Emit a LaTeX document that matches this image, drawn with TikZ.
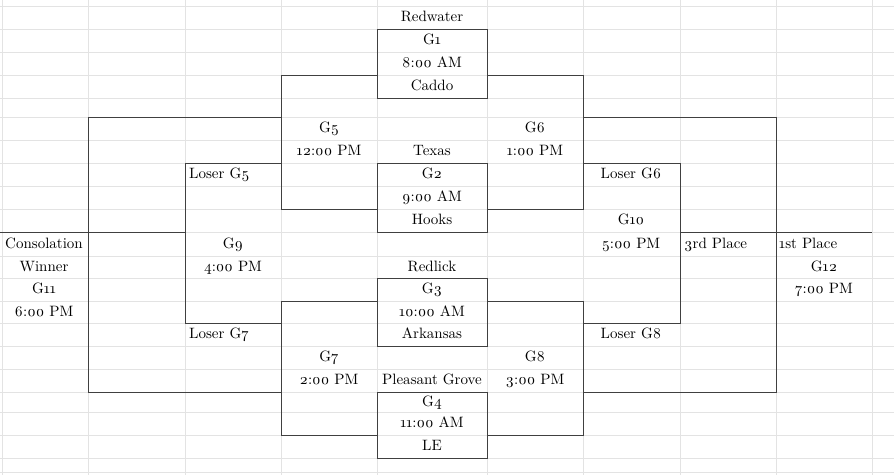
\documentclass[tikz,border=0pt]{standalone}
\usepackage{fontspec}
\setmainfont{lmroman10-regular.otf}[BoldFont=lmroman10-bold.otf, Numbers=OldStyle]
\begin{document}
\begin{tikzpicture}[x=1pt,y=-1pt,
  grid/.style={draw=black!11,line width=0.8pt},
  bd/.style={draw=black!75,line width=1pt},
  lbl/.style={inner sep=0pt,yshift=-1.5pt,font=\fontsize{15}{18}\selectfont,text height=1.5ex,text depth=.3ex},
  lft/.style={lbl,anchor=west}]
\useasboundingbox[fill=white] (0,0) rectangle (894,475);
% spreadsheet gridlines
\foreach \gx in {2,88,185,281,377,487,583,680,776,872}
  \draw[grid] (\gx,0) -- (\gx,475);
\foreach \gy in {6,29,52,75,98,117,140,163,186,209,232,256,278,301,323,346,369,392,412,435,458,472}
  \draw[grid] (0,\gy) -- (894,\gy);
% game boxes
\draw[bd] (377,29) rectangle (487,98);
\draw[bd] (377,163) rectangle (487,232);
\draw[bd] (377,278) rectangle (487,346);
\draw[bd] (377,392) rectangle (487,458);
% brackets
\draw[bd] (377,75) -- (281,75) -- (281,209) -- (377,209);
\draw[bd] (487,75) -- (583,75) -- (583,209) -- (487,209);
\draw[bd] (377,301) -- (281,301) -- (281,435) -- (377,435);
\draw[bd] (487,301) -- (583,301) -- (583,435) -- (487,435);
\draw[bd] (281,117) -- (88,117) -- (88,392) -- (281,392);
\draw[bd] (583,117) -- (776,117) -- (776,392) -- (583,392);
\draw[bd] (281,163) -- (185,163) -- (185,323) -- (281,323);
\draw[bd] (583,163) -- (680,163) -- (680,323) -- (583,323);
\draw[bd] (0,232) -- (185,232);
\draw[bd] (680,232) -- (872,232);
% texts
\node[lbl] (redwater) at (432,17.5) {Redwater};
\node[lbl] (g1) at (432,40.5) {G1};
\node[lbl] (t1) at (432,63.5) {8:00 AM};
\node[lbl] (caddo) at (432,86.5) {Caddo};
\node[lbl] (g5) at (329,128.5) {G5};
\node[lbl] (t5) at (329,151.5) {12:00 PM};
\node[lbl] (texas) at (432,151.5) {Texas};
\node[lbl] (g6) at (535,128.5) {G6};
\node[lbl] (t6) at (535,151.5) {1:00 PM};
\node[lft] (lg5) at (189,174.5) {Loser G5};
\node[lbl] (g2) at (432,174.5) {G2};
\node[lbl] (lg6) at (631,174.5) {Loser G6};
\node[lbl] (t2) at (432,197.5) {9:00 AM};
\node[lbl] (hooks) at (432,220.5) {Hooks};
\node[lbl] (g10) at (631,220.5) {G10};
\node[lbl] (cons) at (44,244) {Consolation};
\node[lbl] (g9) at (233,244) {G9};
\node[lbl] (t10) at (631,244) {5:00 PM};
\node[lft] (third) at (684,244) {3rd Place};
\node[lft] (first) at (779,244) {1st Place};
\node[lbl] (winner) at (44,267) {Winner};
\node[lbl] (t9) at (233,267) {4:00 PM};
\node[lbl] (redlick) at (432,267) {Redlick};
\node[lbl] (g12) at (824,267) {G12};
\node[lbl] (g11) at (44,289.5) {G11};
\node[lbl] (g3) at (432,289.5) {G3};
\node[lbl] (t12) at (824,289.5) {7:00 PM};
\node[lbl] (t11) at (44,312) {6:00 PM};
\node[lbl] (t3) at (432,312) {10:00 AM};
\node[lft] (lg7) at (189,334.5) {Loser G7};
\node[lbl] (ark) at (432,334.5) {Arkansas};
\node[lbl] (lg8) at (631,334.5) {Loser G8};
\node[lbl] (g7) at (329,357.5) {G7};
\node[lbl] (g8) at (535,357.5) {G8};
\node[lbl] (t7) at (329,380.5) {2:00 PM};
\node[lbl] (pg) at (432,380.5) {Pleasant Grove};
\node[lbl] (t8) at (535,380.5) {3:00 PM};
\node[lbl] (g4) at (432,402) {G4};
\node[lbl] (t4) at (432,423.5) {11:00 AM};
\node[lbl] (le) at (432,446.5) {LE};
\end{tikzpicture}
\end{document}
